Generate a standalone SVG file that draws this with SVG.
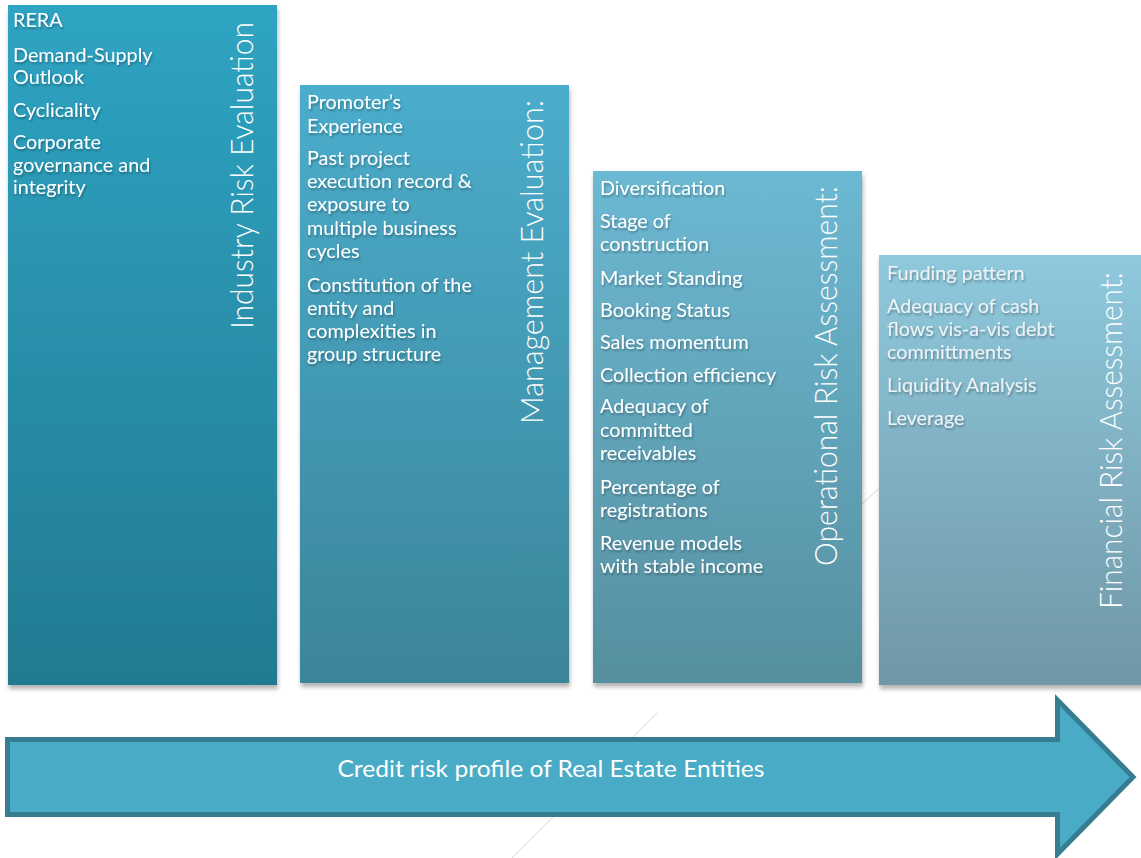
<svg xmlns="http://www.w3.org/2000/svg" width="1141" height="858" viewBox="0 0 1141 858">
<defs>
<linearGradient id="g1" x1="0" y1="0" x2="0" y2="1"><stop offset="0" stop-color="#2ea4c3"/><stop offset="1" stop-color="#237a90"/></linearGradient>
<linearGradient id="g2" x1="0" y1="0" x2="0" y2="1"><stop offset="0" stop-color="#4badcc"/><stop offset="1" stop-color="#3b8599"/></linearGradient>
<linearGradient id="g3" x1="0" y1="0" x2="0" y2="1"><stop offset="0" stop-color="#6cb9d3"/><stop offset="1" stop-color="#568f9f"/></linearGradient>
<linearGradient id="g4" x1="0" y1="0" x2="0" y2="1"><stop offset="0" stop-color="#8fc9dd"/><stop offset="1" stop-color="#6f97a6"/></linearGradient>
<filter id="boxsh" x="-10%" y="-10%" width="120%" height="120%">
<feDropShadow dx="1" dy="4" stdDeviation="2" flood-color="#000" flood-opacity="0.3"/>
</filter>
<filter id="txtsh" x="-10%" y="-30%" width="120%" height="160%">
<feDropShadow dx="1" dy="2" stdDeviation="1" flood-color="#000" flood-opacity="0.3"/>
</filter>
</defs>
<style>
.item{font-family:Lato,"Liberation Sans",sans-serif;font-size:19.8px;fill:#ffffff;filter:url(#txtsh)}
.item4{fill:#eef3f5}
.title{font-family:Lato,"Liberation Sans",sans-serif;font-weight:300;font-size:31px;fill:#ffffff}
.box{filter:url(#boxsh)}
.guide{stroke:#d6d6d6;stroke-width:1;fill:none}
.arrowtxt{font-family:Lato,"Liberation Sans",sans-serif;font-size:23px;fill:#ffffff}
</style>
<rect width="1141" height="858" fill="#ffffff"/>
<g id="connectors">
<line class="guide" x1="510" y1="860" x2="657" y2="713"/>
<line class="guide" x1="855" y1="510" x2="882" y2="486"/>
</g>
<g id="industry">
<rect class="box" x="8" y="5" width="269" height="680" fill="url(#g1)"/>
<text class="item" x="13" y="27">RERA</text>
<text class="item" x="13" y="62">Demand-Supply</text>
<text class="item" x="13" y="84">Outlook</text>
<text class="item" x="13" y="117">Cyclicality</text>
<text class="item" x="13" y="149">Corporate</text>
<text class="item" x="13" y="172">governance and</text>
<text class="item" x="13" y="194">integrity</text>
<text class="title" transform="translate(253,329) rotate(-90)" textLength="307" lengthAdjust="spacingAndGlyphs">Industry Risk Evaluation</text>
</g>
<g id="management">
<rect class="box" x="300" y="85" width="269" height="598" fill="url(#g2)"/>
<text class="item" x="307" y="109">Promoter’s</text>
<text class="item" x="307" y="133">Experience</text>
<text class="item" x="307" y="165">Past project</text>
<text class="item" x="307" y="188">execution record &amp;</text>
<text class="item" x="307" y="211">exposure to</text>
<text class="item" x="307" y="235">multiple business</text>
<text class="item" x="307" y="258">cycles</text>
<text class="item" x="307" y="292">Constitution of the</text>
<text class="item" x="307" y="315">entity and</text>
<text class="item" x="307" y="338">complexities in</text>
<text class="item" x="307" y="361">group structure</text>
<text class="title" transform="translate(543,424) rotate(-90)" textLength="324" lengthAdjust="spacingAndGlyphs">Management Evaluation:</text>
</g>
<g id="operational">
<rect class="box" x="593" y="171" width="269" height="512" fill="url(#g3)"/>
<text class="item" x="600" y="195">Diversification</text>
<text class="item" x="600" y="228">Stage of</text>
<text class="item" x="600" y="251">construction</text>
<text class="item" x="600" y="285">Market Standing</text>
<text class="item" x="600" y="317">Booking Status</text>
<text class="item" x="600" y="349">Sales momentum</text>
<text class="item" x="600" y="382">Collection efficiency</text>
<text class="item" x="600" y="413">Adequacy of</text>
<text class="item" x="600" y="437">committed</text>
<text class="item" x="600" y="460">receivables</text>
<text class="item" x="600" y="494">Percentage of</text>
<text class="item" x="600" y="517">registrations</text>
<text class="item" x="600" y="550">Revenue models</text>
<text class="item" x="600" y="573">with stable income</text>
<text class="title" transform="translate(837,566) rotate(-90)" textLength="380" lengthAdjust="spacingAndGlyphs">Operational Risk Assessment:</text>
</g>
<g id="financial">
<rect class="box" x="879" y="255" width="272" height="430" fill="url(#g4)"/>
<text class="item item4" x="887" y="280">Funding pattern</text>
<text class="item item4" x="887" y="313">Adequacy of cash</text>
<text class="item item4" x="887" y="336">flows vis-a-vis debt</text>
<text class="item item4" x="887" y="359">committments</text>
<text class="item item4" x="887" y="392">Liquidity Analysis</text>
<text class="item item4" x="887" y="425">Leverage</text>
<text class="title" transform="translate(1122,609) rotate(-90)" textLength="337" lengthAdjust="spacingAndGlyphs">Financial Risk Assessment:</text>
</g>
<g id="credit-arrow">
<path d="M7.5,739.5 H1057.5 V700 L1133,777 L1057.5,854 V814.5 H7.5 Z" fill="#4aabc6" stroke="#367d91" stroke-width="5" stroke-linejoin="miter"/>
<text class="arrowtxt" x="551" y="777" text-anchor="middle" textLength="427" lengthAdjust="spacingAndGlyphs">Credit risk profile of Real Estate Entities</text>
</g>
</svg>
